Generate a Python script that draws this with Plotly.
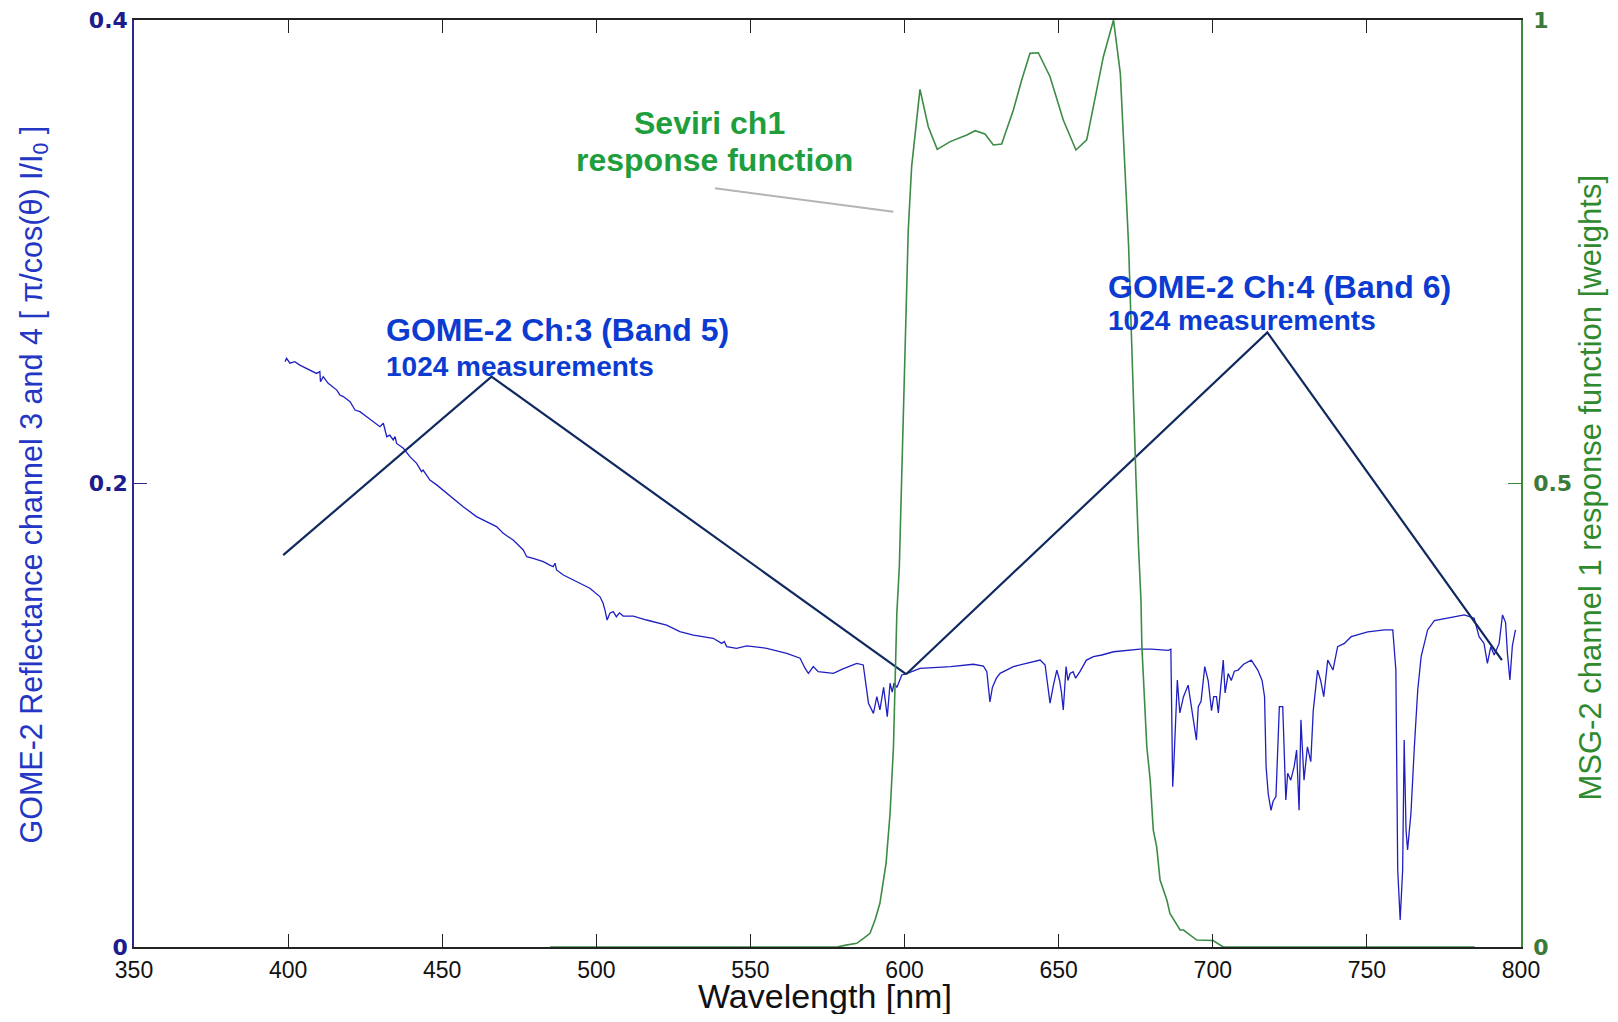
import plotly.graph_objects as go

# ---------------- data ----------------
gome_nm = [399.0, 399.5, 400.6, 402.2, 403.8, 404.9, 407.1, 409.2, 410.3, 410.5, 411.4, 413.0,
           415.8, 416.8, 417.9, 420.1, 421.7, 423.3, 425.5, 427.6, 429.8, 430.9, 431.4, 432.0,
           433.0, 434.1, 434.7, 435.2, 437.4, 439.5, 441.7, 443.3, 443.8, 446.0, 448.2, 451.4,
           453.6, 456.8, 461.1, 464.4, 467.6, 469.8, 473.0, 476.3, 477.4, 479.5, 482.8, 484.9,
           486.0, 486.6, 487.1, 489.3, 492.5, 495.8, 497.9, 501.2, 502.2, 502.8, 503.5, 504.4,
           505.5, 506.5, 507.5, 508.7, 512.0, 516.3, 522.8, 527.1, 531.5, 537.9, 540.7, 541.5,
           542.3, 545.5, 548.8, 555.3, 561.8, 566.1, 567.7, 568.8, 570.4, 572.0, 573.0, 576.9,
           580.0, 584.5, 586.6, 588.3, 589.9, 591.0, 592.0, 593.2, 594.4, 595.3, 596.0, 596.6,
           597.5, 599.1, 600.7, 605.0, 615.0, 622.3, 625.6, 626.7, 627.7, 628.5, 629.8, 631.0,
           635.3, 640.0, 644.0, 645.6, 647.2, 648.3, 649.4, 650.3, 650.9, 651.5, 652.4, 653.0,
           653.7, 654.7, 655.5, 656.9, 659.0, 661.3, 664.0, 667.8, 672.0, 676.4, 680.0, 683.0,
           685.6, 686.4, 687.0, 687.4, 688.5, 689.3, 690.5, 692.0, 693.6, 694.7, 695.3, 696.2,
           697.4, 698.5, 699.6, 700.3, 701.2, 701.8, 703.4, 704.0, 705.0, 706.0, 707.0, 708.2,
           710.0, 712.5, 714.6, 716.0, 716.8, 717.3, 718.0, 718.9, 719.6, 720.5, 721.6, 722.7,
           723.7, 724.3, 725.3, 726.4, 727.2, 728.0, 728.6, 729.6, 730.7, 731.8, 732.6, 734.0,
           735.0, 736.0, 737.3, 739.0, 740.5, 742.7, 744.9, 750.3, 755.7, 758.4, 759.4, 760.0,
           760.8, 761.6, 762.1, 762.7, 763.2, 764.3, 765.4, 766.5, 767.6, 769.7, 771.9, 777.3,
           781.6, 784.8, 786.4, 788.0, 789.1, 790.2, 791.3, 792.9, 794.0, 795.0, 795.6, 796.4,
           797.2, 798.2]
gome_refl = [0.2526, 0.2540, 0.2519, 0.2526, 0.2511, 0.2504, 0.2490, 0.2475, 0.2483, 0.2439, 0.2461, 0.2432,
             0.2403, 0.2382, 0.2375, 0.2353, 0.2317, 0.2310, 0.2288, 0.2267, 0.2245, 0.2260, 0.2231, 0.2202,
             0.2209, 0.2188, 0.2202, 0.2173, 0.2152, 0.2116, 0.2087, 0.2051, 0.2058, 0.2015, 0.1994, 0.1958,
             0.1936, 0.1900, 0.1857, 0.1835, 0.1814, 0.1785, 0.1756, 0.1713, 0.1684, 0.1677, 0.1663, 0.1648,
             0.1641, 0.1656, 0.1627, 0.1605, 0.1584, 0.1562, 0.1548, 0.1511, 0.1483, 0.1454, 0.1411, 0.1440,
             0.1447, 0.1425, 0.1442, 0.1428, 0.1428, 0.1411, 0.1389, 0.1361, 0.1346, 0.1332, 0.1310, 0.1318,
             0.1296, 0.1289, 0.1299, 0.1289, 0.1267, 0.1246, 0.1203, 0.1181, 0.1210, 0.1188, 0.1186, 0.1181,
             0.1200, 0.1224, 0.1217, 0.1052, 0.1008, 0.1080, 0.1023, 0.1120, 0.0994, 0.1138, 0.1100, 0.1140,
             0.1120, 0.1174, 0.1180, 0.1202, 0.1210, 0.1220, 0.1212, 0.1188, 0.1058, 0.1120, 0.1160, 0.1181,
             0.1210, 0.1225, 0.1238, 0.1217, 0.1052, 0.1130, 0.1195, 0.1150, 0.1100, 0.1023, 0.1210, 0.1150,
             0.1180, 0.1188, 0.1160, 0.1188, 0.1238, 0.1253, 0.1260, 0.1274, 0.1280, 0.1285, 0.1285, 0.1282,
             0.1280, 0.1285, 0.0692, 0.0800, 0.1152, 0.1010, 0.1080, 0.1130, 0.0980, 0.0893, 0.1037, 0.1060,
             0.1210, 0.1150, 0.1020, 0.1080, 0.1080, 0.1010, 0.1238, 0.1096, 0.1180, 0.1150, 0.1190, 0.1195,
             0.1220, 0.1238, 0.1195, 0.1150, 0.1080, 0.0778, 0.0660, 0.0590, 0.0630, 0.0649, 0.1037, 0.1037,
             0.0634, 0.0750, 0.0720, 0.0778, 0.0850, 0.0590, 0.0980, 0.0720, 0.0864, 0.0800, 0.1020, 0.1195,
             0.1150, 0.1080, 0.1238, 0.1195, 0.1296, 0.1310, 0.1339, 0.1360, 0.1368, 0.1368, 0.1195, 0.0332,
             0.0117, 0.0332, 0.0893, 0.0505, 0.0419, 0.0578, 0.0864, 0.1110, 0.1253, 0.1368, 0.1408, 0.1423,
             0.1433, 0.1419, 0.1339, 0.1310, 0.1224, 0.1296, 0.1260, 0.1310, 0.1433, 0.1400, 0.1267, 0.1152,
             0.1300, 0.1368]

seviri_nm = [485.0, 578.0, 581.0, 584.5, 587.0, 588.8, 590.5, 592.0, 594.0, 595.3, 596.4, 596.9,
             597.5, 598.3, 598.8, 599.1, 599.6, 600.2, 600.7, 601.2, 602.3, 603.4, 605.0, 607.7,
             610.6, 614.8, 620.2, 622.9, 626.1, 628.8, 631.5, 635.3, 638.0, 640.7, 643.4, 647.2,
             651.5, 655.6, 659.1, 664.5, 667.8, 670.0, 671.6, 672.2, 672.7, 673.2, 673.8, 674.5,
             675.1, 675.9, 676.7, 677.0, 678.6, 679.7, 680.7, 681.8, 682.9, 685.1, 686.1, 689.4,
             690.5, 694.8, 699.1, 700.1, 703.4, 785.0]
seviri_w = [0.0, 0.0, 0.002, 0.004, 0.010, 0.0148, 0.030, 0.0471, 0.0903, 0.144, 0.216, 0.288,
            0.360, 0.410, 0.4679, 0.5218, 0.5757, 0.6405, 0.6944, 0.7735, 0.8418, 0.8777, 0.9252, 0.8849,
            0.8605, 0.8688, 0.8760, 0.8806, 0.8770, 0.8652, 0.8662, 0.9029, 0.9353, 0.9640, 0.9647, 0.9388,
            0.8921, 0.8598, 0.8706, 0.9604, 1.0, 0.9425, 0.8418, 0.7915, 0.7555, 0.7015, 0.6260, 0.5757,
            0.5038, 0.4318, 0.3743, 0.324, 0.216, 0.180, 0.126, 0.108, 0.0723, 0.0507, 0.0363, 0.0183,
            0.0183, 0.0075, 0.0065, 0.007, 0.0, 0.0]

# annotation pointer lines (wavelength, value)
ch3_bracket_nm = [398.4, 466.0, 600.5]
ch3_bracket_val = [0.1691, 0.2461, 0.1177]
ch4_bracket_nm = [600.5, 717.7, 793.8]
ch4_bracket_val = [0.1177, 0.2652, 0.1238]
seviri_pointer_nm = [538.5, 596.4]
seviri_pointer_w = [0.8184, 0.7932]

x_ticks = [350, 400, 450, 500, 550, 600, 650, 700, 750, 800]
y_ticks = [0, 0.2, 0.4]
y2_ticks = [0, 0.5, 1]

# ---------------- layout geometry ----------------
# page body has an 8px margin; the figure is sized so the page fits the window
OFF = 8
W, H = 1602, 1006
L, T = 134 - OFF, 20 - OFF
R, B = W - (1521 - OFF), H - (947 - OFF)
PW, PH = W - L - R, H - T - B


def px(x):  # x in window pixels -> paper fraction
    return (x - OFF - L) / PW


def py(y):  # y in window pixels -> paper fraction
    return (H - B - (y - OFF)) / PH


BLUE_LINE = "#1f1fc2"
GREEN_LINE = "#3c8c46"
NAVY = "#102a60"
TXT_BLUE = "#0b3bd0"
TXT_GREEN = "#1e9e3c"
SANS = "Liberation Sans, Arial, sans-serif"

fig = go.Figure()
fig.add_trace(go.Scatter(x=gome_nm, y=gome_refl, mode="lines",
                         line=dict(color=BLUE_LINE, width=1.3), hoverinfo="skip"))
fig.add_trace(go.Scatter(x=seviri_nm, y=seviri_w, mode="lines", yaxis="y2",
                         line=dict(color=GREEN_LINE, width=1.6), hoverinfo="skip"))
fig.add_trace(go.Scatter(x=ch3_bracket_nm, y=ch3_bracket_val, mode="lines",
                         line=dict(color=NAVY, width=2.2), hoverinfo="skip"))
fig.add_trace(go.Scatter(x=ch4_bracket_nm, y=ch4_bracket_val, mode="lines",
                         line=dict(color=NAVY, width=2.2), hoverinfo="skip"))
fig.add_trace(go.Scatter(x=seviri_pointer_nm, y=seviri_pointer_w, mode="lines", yaxis="y2",
                         line=dict(color="#b4b4b4", width=2), hoverinfo="skip"))

annotations = [
    dict(text="<b>Seviri ch1</b>", x=px(709), y=py(123.5), xanchor="center", yanchor="middle",
         font=dict(family=SANS, size=32, color=TXT_GREEN)),
    dict(text="<b>response function</b>", x=px(714), y=py(159.5), xanchor="center", yanchor="middle",
         font=dict(family=SANS, size=32, color=TXT_GREEN)),
    dict(text="<b>GOME-2 Ch:3 (Band 5)</b>", x=px(384), y=py(330.5), xanchor="left", yanchor="middle",
         font=dict(family=SANS, size=32, color=TXT_BLUE)),
    dict(text="<b>1024 measurements</b>", x=px(384), y=py(366.5), xanchor="left", yanchor="middle",
         font=dict(family=SANS, size=28, color=TXT_BLUE)),
    dict(text="<b>GOME-2 Ch:4 (Band 6)</b>", x=px(1106), y=py(286.5), xanchor="left", yanchor="middle",
         font=dict(family=SANS, size=32, color=TXT_BLUE)),
    dict(text="<b>1024 measurements</b>", x=px(1106), y=py(320.5), xanchor="left", yanchor="middle",
         font=dict(family=SANS, size=28, color=TXT_BLUE)),
    # axis titles
    dict(text="GOME-2 Reflectance channel 3 and 4 [ \u03c0/cos(\u03b8) I/I<sub>0</sub> ]",
         x=px(33), y=py(484.5), xanchor="center", yanchor="middle", textangle=-90,
         font=dict(family=SANS, size=30.5, color="#2336c4")),
    dict(text="MSG-2 channel 1 response function [weights]",
         x=px(1590), y=py(487.5), xanchor="center", yanchor="middle", textangle=-90,
         font=dict(family=SANS, size=31, color="#2f8a2f")),
    dict(text="Wavelength [nm]", x=px(824.5), y=py(996), xanchor="center", yanchor="middle",
         font=dict(family=SANS, size=34, color="#111111")),
]
for a in annotations:
    a.update(xref="paper", yref="paper", showarrow=False)

fig.update_layout(
    width=W, height=H,
    margin=dict(l=L, r=R, t=T, b=B, pad=0, autoexpand=False),
    paper_bgcolor="white", plot_bgcolor="white",
    showlegend=False, hovermode=False,
    annotations=annotations,
    xaxis=dict(range=[350, 800], tickvals=x_ticks, ticks="inside", ticklen=13, tickwidth=1.2,
               tickcolor="#222222", showline=True, linecolor="#222222", linewidth=1.5,
               mirror="ticks", showgrid=False, zeroline=False, ticklabelstandoff=2,
               ticklabeloverflow="allow",
               tickfont=dict(family=SANS, size=23, color="#111111")),
    yaxis=dict(range=[0, 0.4], tickvals=y_ticks, ticks="inside", ticklen=13, tickwidth=1.2,
               tickcolor="#2a2a90", showline=True, linecolor="#2a2a90", linewidth=1.5,
               showgrid=False, zeroline=False, ticklabelstandoff=0, ticklabeloverflow="allow",
               tickfont=dict(family="DejaVu Sans, sans-serif", size=22, color="#1c1c8c", weight="bold")),
    yaxis2=dict(range=[0, 1], tickvals=y2_ticks, overlaying="y", side="right", ticks="inside",
                ticklen=13, tickwidth=1.2, tickcolor="#3a8a3a", showline=True, linecolor="#3a8a3a",
                linewidth=1.5, showgrid=False, zeroline=False, ticklabelstandoff=6,
                ticklabeloverflow="allow",
                tickfont=dict(family="DejaVu Sans, sans-serif", size=22, color="#3a7a3a", weight="bold")),
)

fig.write_html("out.html")
